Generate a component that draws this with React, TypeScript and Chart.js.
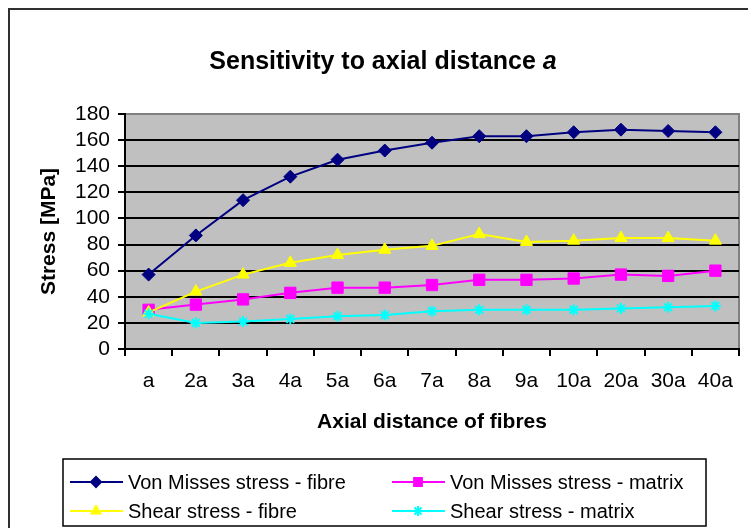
import React, { useEffect, useRef } from 'react';
import { Chart, registerables } from 'chart.js';
import { drawPoint } from 'chart.js/helpers';

Chart.register(...registerables);

const categories = ['a', '2a', '3a', '4a', '5a', '6a', '7a', '8a', '9a', '10a', '20a', '30a', '40a'];
const vonMisesFibre = [57, 87, 114, 132, 145, 152, 158, 163, 163, 166, 168, 167, 166];
const vonMisesMatrix = [30, 34, 38, 43, 47, 47, 49, 53, 53, 54, 57, 56, 60];
const shearFibre = [28, 44, 57, 66, 72, 76, 79, 88, 82, 83, 85, 85, 83];
const shearMatrix = [27, 20, 21, 23, 25, 26, 29, 30, 30, 30, 31, 32, 33];
const yMin = 0;
const yMax = 180;
const yStep = 20;
const seriesNames = [
  'Von Misses stress - fibre',
  'Von Misses stress - matrix',
  'Shear stress - fibre',
  'Shear stress - matrix',
];
const titleMain = 'Sensitivity to axial distance ';
const titleItalic = 'a';
const xTitle = 'Axial distance of fibres';
const yTitle = 'Stress [MPa]';

const FONT = 'Arial, "Liberation Sans", sans-serif';

const backgroundPlugin = {
  id: 'plotBg',
  beforeDraw(chart: any) {
    const { ctx, chartArea } = chart;
    ctx.save();
    ctx.fillStyle = '#ffffff';
    ctx.fillRect(0, 0, chart.width, chart.height);
    ctx.fillStyle = '#c0c0c0';
    ctx.fillRect(chartArea.left, chartArea.top, chartArea.right - chartArea.left, chartArea.bottom - chartArea.top);
    ctx.strokeStyle = '#808080';
    ctx.lineWidth = 2;
    ctx.strokeRect(chartArea.left, chartArea.top, chartArea.right - chartArea.left, chartArea.bottom - chartArea.top);
    ctx.restore();
  },
};

const framePlugin = {
  id: 'frameAndTitle',
  afterDraw(chart: any) {
    const { ctx } = chart;
    ctx.save();
    ctx.strokeStyle = '#303030';
    ctx.lineWidth = 2;
    ctx.strokeRect(9, 9, chart.width + 40, chart.height + 40);
    ctx.fillStyle = '#000';
    ctx.textBaseline = 'middle';
    const size = 25;
    ctx.font = `bold ${size}px ${FONT}`;
    const w1 = ctx.measureText(titleMain).width;
    ctx.font = `italic bold ${size}px ${FONT}`;
    const w2 = ctx.measureText(titleItalic).width;
    const cx = 383;
    const cy = 62;
    const x = cx - (w1 + w2) / 2;
    ctx.textAlign = 'left';
    ctx.font = `bold ${size}px ${FONT}`;
    ctx.fillText(titleMain, x, cy);
    ctx.font = `italic bold ${size}px ${FONT}`;
    ctx.fillText(titleItalic, x + w1, cy);
    ctx.restore();
  },
};

const legendPlugin = {
  id: 'boxLegend',
  afterDraw(chart: any) {
    const { ctx } = chart;
    const box = { l: 63, t: 459, r: 706, b: 526 };
    ctx.save();
    ctx.fillStyle = '#ffffff';
    ctx.fillRect(box.l, box.t, box.r - box.l, box.b - box.t);
    ctx.strokeStyle = '#000';
    ctx.lineWidth = 1.5;
    ctx.strokeRect(box.l, box.t, box.r - box.l, box.b - box.t);
    const cols = [70, 392];
    const rows = [482, 511];
    const radii = [5, 5.5, 5, 5];
    chart.data.datasets.forEach((ds: any, i: number) => {
      const col = cols[i % 2];
      const row = rows[Math.floor(i / 2)];
      ctx.strokeStyle = ds.borderColor;
      ctx.lineWidth = 2;
      ctx.beginPath();
      ctx.moveTo(col, row);
      ctx.lineTo(col + 53, row);
      ctx.stroke();
      ctx.fillStyle = ds.pointBackgroundColor;
      ctx.strokeStyle = ds.pointBorderColor;
      drawPoint(ctx, { pointStyle: ds.pointStyle, rotation: 0, radius: radii[i], borderWidth: ds.pointStyle === 'star' ? 1.5 : 1 }, col + 26, row);
      ctx.fillStyle = '#000';
      ctx.font = `20px ${FONT}`;
      ctx.textAlign = 'left';
      ctx.textBaseline = 'middle';
      ctx.fillText(ds.label, col + 58, row + 1);
    });
    ctx.restore();
  },
};

function makeDataset(label: string, data: number[], color: string, style: string, radius: number, order: number) {
  return {
    label,
    data,
    borderColor: color,
    backgroundColor: color,
    pointBackgroundColor: color,
    pointBorderColor: color,
    pointStyle: style,
    pointRadius: radius,
    pointBorderWidth: style === 'star' ? 2 : 1,
    borderWidth: 2,
    tension: 0,
    fill: false,
    order,
  };
}

export default function App() {
  const ref = useRef<HTMLCanvasElement | null>(null);
  useEffect(() => {
    if (!ref.current) return;
    const chart = new Chart(ref.current, {
      type: 'line',
      data: {
        labels: categories,
        datasets: [
          makeDataset(seriesNames[0], vonMisesFibre, '#000080', 'rectRot', 6.5, 4),
          makeDataset(seriesNames[1], vonMisesMatrix, '#ff00ff', 'rect', 8, 3),
          makeDataset(seriesNames[2], shearFibre, '#ffff00', 'triangle', 7, 2),
          makeDataset(seriesNames[3], shearMatrix, '#00ffff', 'star', 5.5, 1),
        ],
      },
      options: {
        responsive: false,
        animation: false,
        devicePixelRatio: 1,
        layout: { padding: { left: 0, top: 114, right: 9, bottom: 89 } },
        plugins: {
          legend: { display: false },
          title: { display: false },
          tooltip: { enabled: false },
        },
        scales: {
          x: {
            type: 'category',
            offset: true,
            grid: {
              offset: true,
              drawOnChartArea: false,
              drawTicks: true,
              tickLength: 7,
              color: '#000',
              lineWidth: 2,
            },
            border: { display: true, color: '#000', width: 2 },
            ticks: {
              color: '#000',
              font: { size: 21, family: FONT },
              padding: 13,
              maxRotation: 0,
              autoSkip: false,
            },
            title: {
              display: true,
              text: xTitle,
              color: '#000',
              font: { size: 21, weight: 'bold', family: FONT },
              padding: { top: 0, bottom: 4 },
            },
            afterFit: (s: any) => {
              s.height = 90;
            },
          },
          y: {
            min: yMin,
            max: yMax,
            ticks: {
              stepSize: yStep,
              autoSkip: false,
              color: '#000',
              font: { size: 21, family: FONT },
              padding: 8,
            },
            grid: {
              color: (c: any) => (c.tick && c.tick.value === yMax ? '#808080' : '#000'),
              lineWidth: 2,
              tickLength: 7,
              tickColor: '#000',
              tickWidth: 2,
            },
            border: { display: true, color: '#000', width: 2 },
            title: {
              display: true,
              text: yTitle,
              color: '#000',
              font: { size: 21, weight: 'bold', family: FONT },
              padding: { top: 37, bottom: 0 },
            },
            afterFit: (s: any) => {
              s.width = 125;
            },
          },
        },
      } as any,
      plugins: [backgroundPlugin, framePlugin, legendPlugin],
    });
    return () => chart.destroy();
  }, []);

  return (
    <div style={{ position: 'fixed', left: 0, top: 0, width: 748, height: 528, background: '#fff' }}>
      <canvas ref={ref} width={748} height={528} style={{ display: 'block', width: 748, height: 528 }} />
    </div>
  );
}
